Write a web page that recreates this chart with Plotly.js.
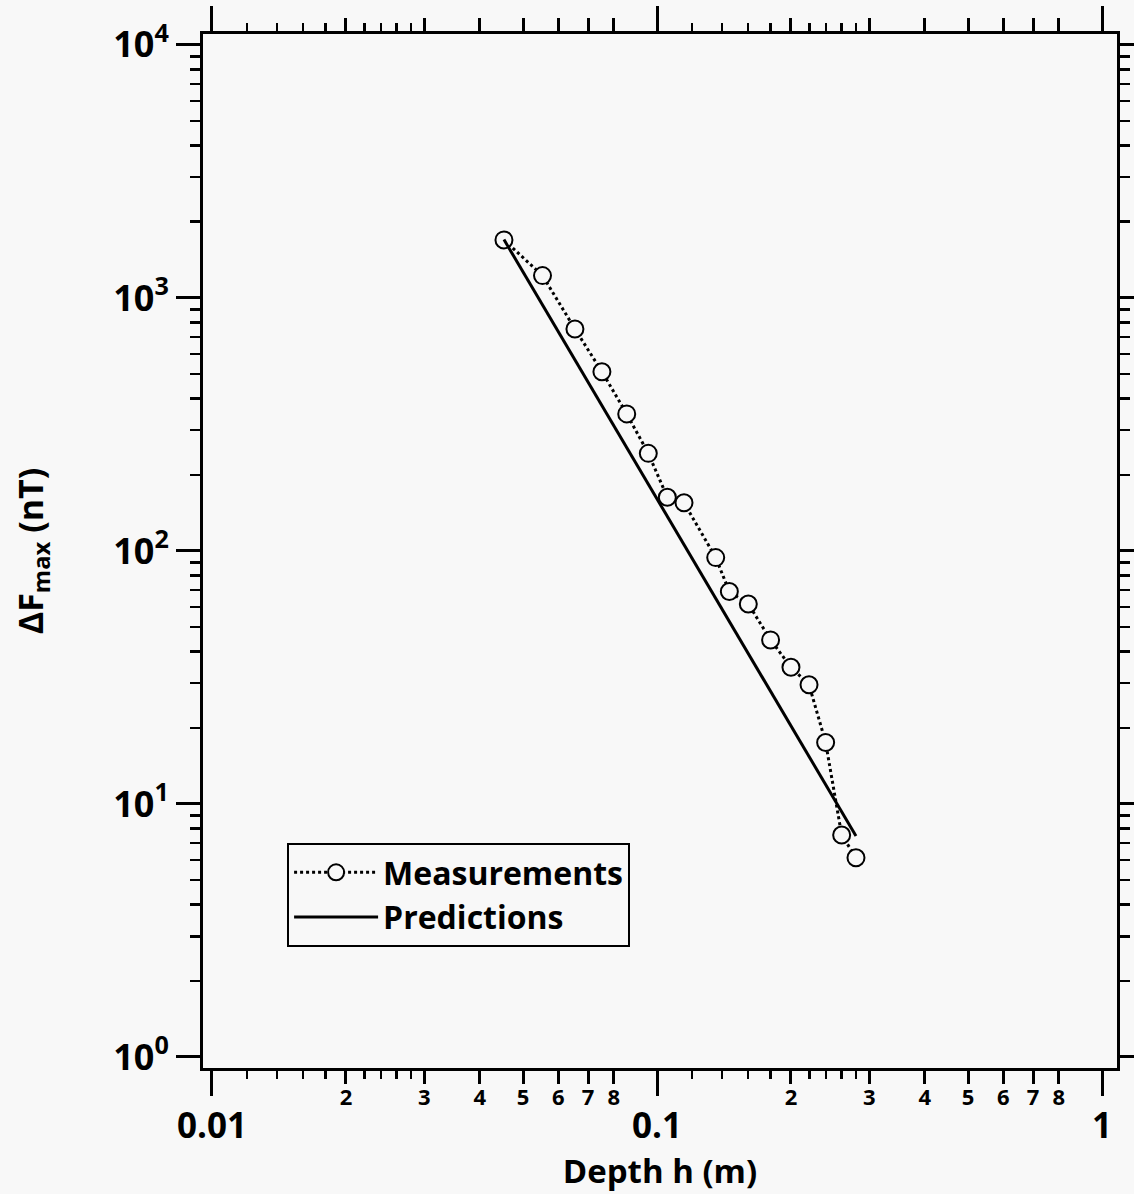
<!DOCTYPE html>
<html>
<head>
<meta charset="utf-8">
<script src="https://cdn.plot.ly/plotly-3.0.1.min.js"></script>
<style>html,body{margin:0;padding:0;background:#f8f8f8;}#chart{width:1134px;height:1194px;}</style>
</head>
<body>
<div id="chart"></div>
<script>
// Measurements (depth in m, peak anomaly in nT)
const measDepth = [0.0453, 0.0553, 0.0654, 0.0752, 0.0855, 0.0956, 0.1055, 0.115, 0.1355, 0.1454, 0.1604, 0.180, 0.200, 0.2196, 0.2393, 0.260, 0.280];
const measField = [1695, 1225, 754, 511, 348, 243, 163, 155, 94.1, 69.1, 61.7, 44.5, 34.7, 29.6, 17.5, 7.54, 6.13];
// Predictions (straight line in log-log)
const predDepth = [0.0453, 0.100, 0.280];
const predField = [1700, 160, 7.47];

// Tick labels
const xMajorVals = [0.01, 0.1, 1];
const xMajorText = ['0.01', '0.1', '1'];
const xMidVals = [0.02,0.03,0.04,0.05,0.06,0.07,0.08,0.2,0.3,0.4,0.5,0.6,0.7,0.8];
const xMidText = ['2','3','4','5','6','7','8','2','3','4','5','6','7','8'];
const xNineVals = [0.09, 0.9];
const xMinorVals = [0.012,0.014,0.016,0.018,0.022,0.024,0.026,0.028,0.12,0.14,0.16,0.18,0.22,0.24,0.26,0.28];
const yMajorVals = [1, 10, 100, 1000, 10000];
const yMajorText = ['10<sup>0</sup>','10<sup>1</sup>','10<sup>2</sup>','10<sup>3</sup>','10<sup>4</sup>'];
const yMinorVals = [];
[1,10,100,1000].forEach(d => { for (let k = 2; k <= 9; k++) yMinorVals.push(k*d); });

const FONT = 'Open Sans, Noto Sans, sans-serif';
const xRange = [-2.0202, 0.0337];
const yRange = [-0.0435, 4.043];

const traces = [
  {
    x: measDepth, y: measField, name: 'Measurements',
    type: 'scatter', mode: 'lines+markers',
    line: {color: '#000', width: 3, dash: 'dot'},
    marker: {symbol: 'circle', size: 17, color: '#f8f8f8', line: {color: '#000', width: 2}},
    xaxis: 'x', yaxis: 'y'
  },
  {
    x: predDepth, y: predField, name: 'Predictions',
    type: 'scatter', mode: 'lines',
    line: {color: '#000', width: 3},
    xaxis: 'x2', yaxis: 'y'
  }
];

const axisCommon = {
  type: 'log', range: xRange,
  ticks: 'outside', tickwidth: 3, tickcolor: '#000',
  showline: true, linewidth: 3, linecolor: '#000', mirror: 'ticks',
  showgrid: false, zeroline: false, tickmode: 'array'
};

const layout = {
  width: 1134, height: 1194,
  paper_bgcolor: '#f8f8f8', plot_bgcolor: '#f8f8f8',
  margin: {l: 203, r: 17, t: 34, b: 126},
  font: {family: FONT, color: '#000', weight: 'bold'},
  showlegend: true,
  legend: {
    x: 0.092, y: 0.2176, xanchor: 'left', yanchor: 'top',
    bordercolor: '#000', borderwidth: 2, bgcolor: '#f8f8f8',
    font: {family: FONT, size: 32, color: '#000', weight: 'bold'},
    traceorder: 'normal', itemwidth: 84
  },
  xaxis: Object.assign({}, axisCommon, {
    tickvals: xMajorVals, ticktext: xMajorText, ticklen: 25,
    tickfont: {family: FONT, size: 35, color: '#000', weight: 'bold'},
    minor: {tickmode: 'array', tickvals: xMinorVals, ticks: 'outside', ticklen: 8, tickwidth: 2.5, tickcolor: '#000', showgrid: false},
    title: {text: 'Depth h (m)', font: {family: FONT, size: 33, color: '#000', weight: 'bold'}, standoff: 0}
  }),
  xaxis2: Object.assign({}, axisCommon, {
    overlaying: 'x', anchor: 'y', side: 'bottom',
    tickvals: xMidVals, ticktext: xMidText, ticklen: 13, ticklabelstandoff: -5,
    tickfont: {family: FONT, size: 22, color: '#000', weight: 'bold'}
  }),
  xaxis3: Object.assign({}, axisCommon, {
    overlaying: 'x', anchor: 'y', side: 'bottom',
    tickvals: xNineVals, ticklen: 12, showticklabels: false
  }),
  yaxis: {
    type: 'log', range: yRange,
    tickmode: 'array', tickvals: yMajorVals, ticktext: yMajorText,
    ticks: 'outside', ticklen: 24, tickwidth: 3, tickcolor: '#000',
    showline: true, linewidth: 3, linecolor: '#000', mirror: 'ticks',
    showgrid: false, zeroline: false,
    tickfont: {family: FONT, size: 36, color: '#000', weight: 'bold'},
    minor: {tickmode: 'array', tickvals: yMinorVals, ticks: 'outside', ticklen: 10, tickwidth: 2.5, tickcolor: '#000', showgrid: false},
    title: {text: 'ΔF<sub>max</sub> (nT)', font: {family: FONT, size: 34, color: '#000', weight: 'bold'}, standoff: 60}
  }
};

Plotly.newPlot('chart', traces, layout, {displayModeBar: false, staticPlot: true});
</script>
</body>
</html>
